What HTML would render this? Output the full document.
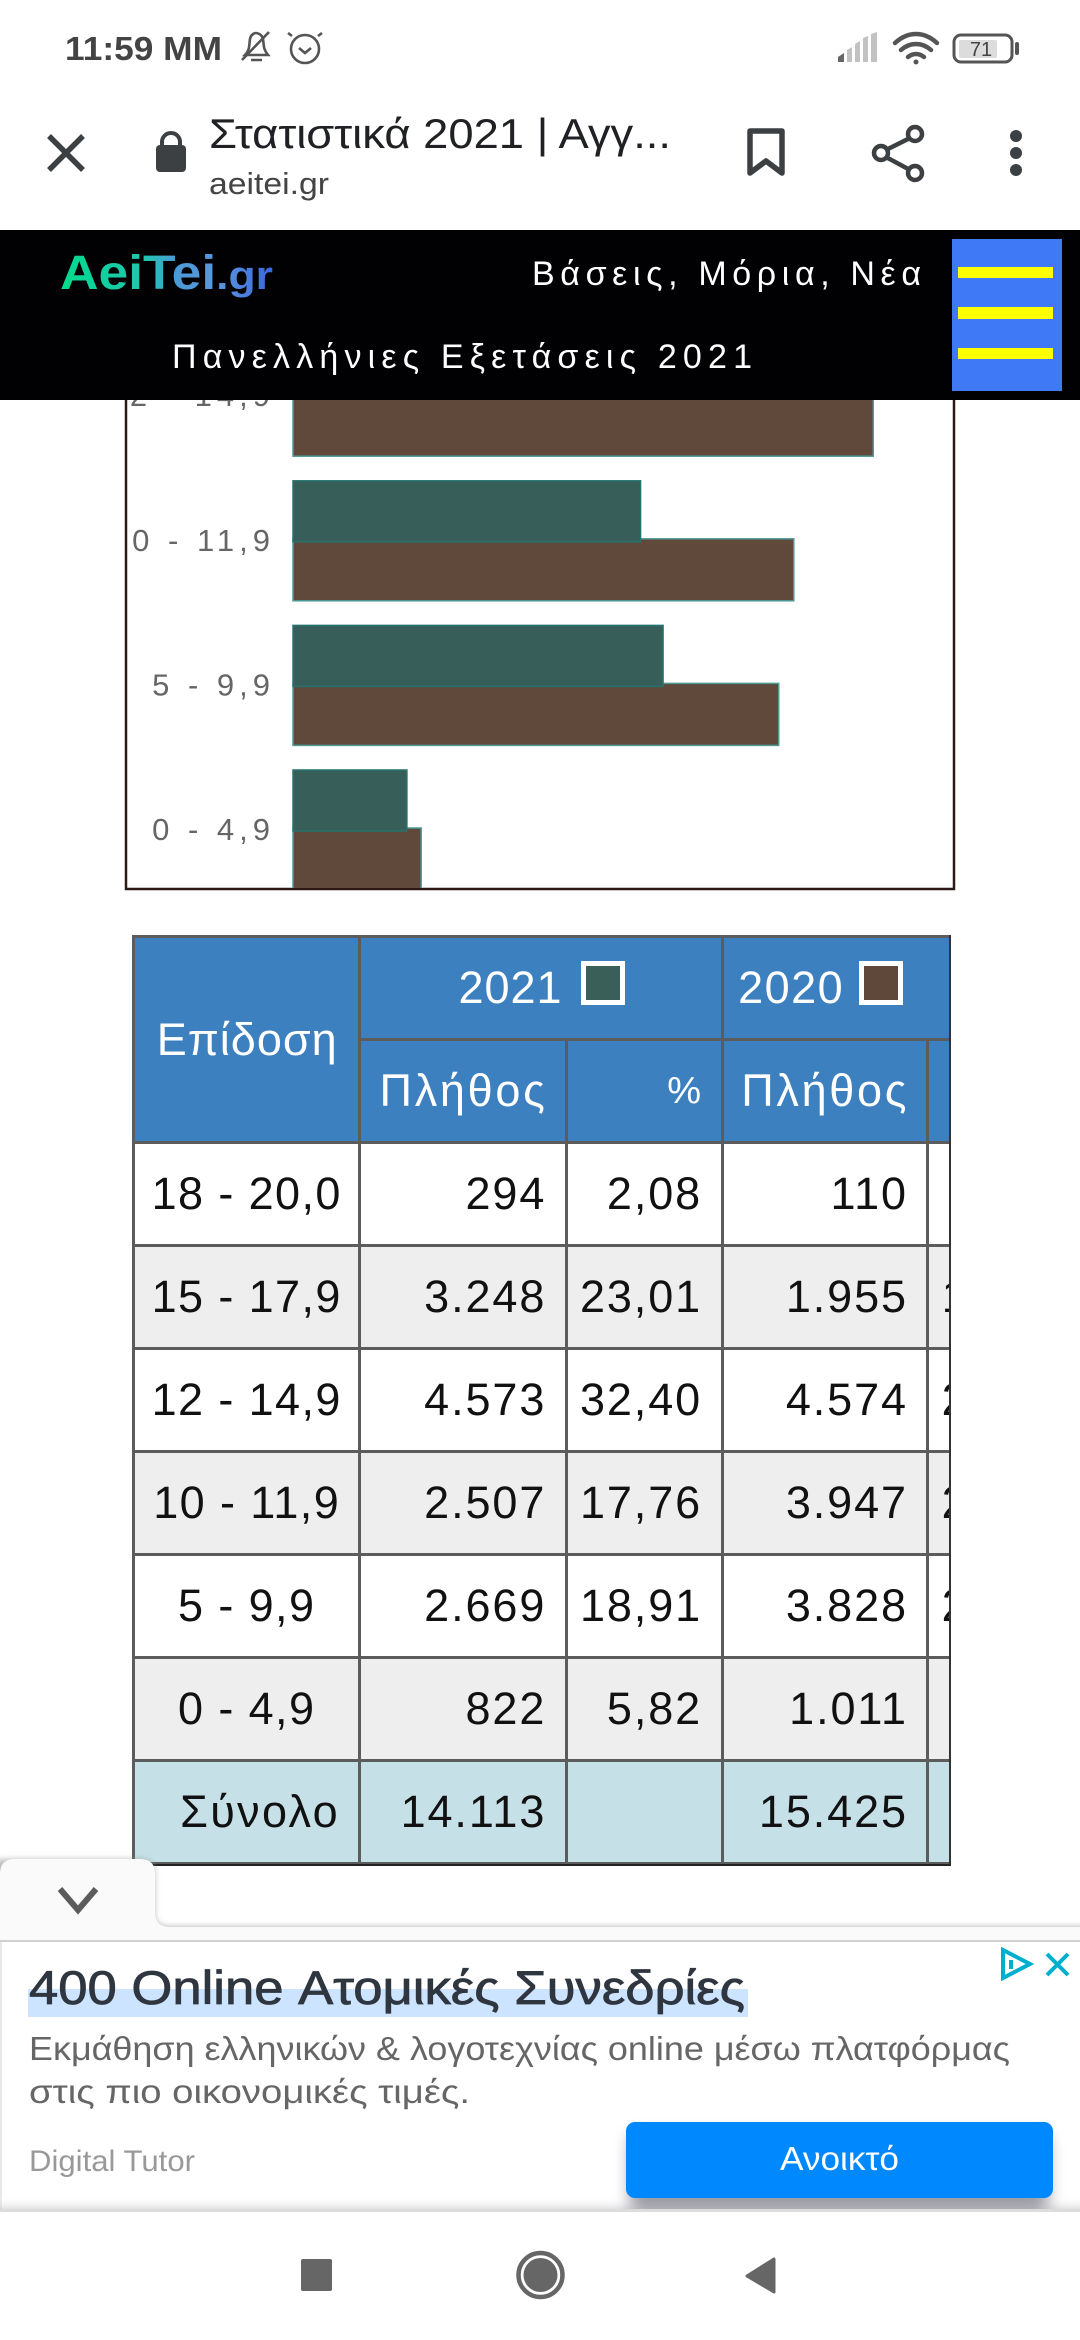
<!DOCTYPE html>
<html lang="el">
<head>
<meta charset="utf-8">
<title>Στατιστικά 2021</title>
<style>
html,body{margin:0;padding:0;background:#fff}
#page{position:relative;width:1080px;height:2340px;overflow:hidden;background:#fff;font-family:"Liberation Sans","Noto Sans CJK JP",sans-serif}
#chart{position:absolute;left:0;top:0;width:1080px;height:900px}
#table-wrap{position:absolute;left:132px;top:935px;width:817px;height:929px;overflow:hidden;border-right:2px solid #333;border-bottom:2px solid #222}
table{border-collapse:separate;border-spacing:3px;background:#5c5c5c;table-layout:fixed;width:1087px;margin:0}
td,th{padding:0;font-weight:normal;font-size:45px;line-height:50px;color:#111;height:100px;box-sizing:border-box;white-space:nowrap;text-align:right;padding-right:18.5px;letter-spacing:1.9px;background:#fff;overflow:hidden}
th{background:#3d80c0;color:#fff;letter-spacing:2.7px;padding-right:17.3px}
td.c{text-align:center;padding-right:0;letter-spacing:1.4px}
th.c{text-align:center;padding-right:0;padding-left:1px;letter-spacing:1px}
tr.alt td{background:#eee}
tr.tot td{background:#c6e0e8}
tr.tot td.lbl{letter-spacing:2.3px}
td.p{padding-right:19px}
th.p{padding-right:20px;font-size:38px;letter-spacing:0}
.sw{display:inline-block;width:44px;height:44px;box-sizing:border-box;border:5px solid #fff;margin-left:18.5px;position:relative;top:-8px;vertical-align:middle}
#chrome{position:absolute;left:0;top:0;width:1080px;height:2340px;pointer-events:none}
#chrome *{pointer-events:auto}
</style>
</head>
<body>
<div id="page">
<svg id="chart" viewBox="0 0 1080 900">
  <defs><clipPath id="plot-clip"><rect x="127" y="0" width="826" height="888"/></clipPath></defs>
  <rect x="126" y="-10" width="828" height="899" fill="#fff" stroke="#2b1a17" stroke-width="2.5"/>
  <g id="marks" clip-path="url(#plot-clip)"></g>
</svg>

<div id="table-wrap">
<table>
<colgroup><col style="width:223px"><col style="width:203px"><col style="width:153px"><col style="width:202px"><col style="width:153px"><col style="width:130px"></colgroup>
<tr>
  <th rowspan="2" class="c" style="height:203px">Επίδοση</th>
  <th colspan="2" class="c">2021<span class="sw" style="background:#3a5f58"></span></th>
  <th colspan="3" style="text-align:left;padding:0 0 0 14px;letter-spacing:1.5px">2020<span class="sw" style="background:#5f483a;margin-left:15px"></span></th>
</tr>
<tr>
  <th>Πλήθος</th>
  <th class="p">%</th>
  <th>Πλήθος</th>
  <th class="p">%</th>
  <th></th>
</tr>
<tr><td class="c">18 - 20,0</td><td>294</td><td class="p">2,08</td><td>110</td><td class="p">0,71</td><td></td></tr>
<tr class="alt"><td class="c">15 - 17,9</td><td>3.248</td><td class="p">23,01</td><td>1.955</td><td class="p">12,67</td><td></td></tr>
<tr><td class="c">12 - 14,9</td><td>4.573</td><td class="p">32,40</td><td>4.574</td><td class="p">29,65</td><td></td></tr>
<tr class="alt"><td class="c">10 - 11,9</td><td>2.507</td><td class="p">17,76</td><td>3.947</td><td class="p">25,59</td><td></td></tr>
<tr><td class="c">5 - 9,9</td><td>2.669</td><td class="p">18,91</td><td>3.828</td><td class="p">24,82</td><td></td></tr>
<tr class="alt"><td class="c">0 - 4,9</td><td>822</td><td class="p">5,82</td><td>1.011</td><td class="p">6,55</td><td></td></tr>
<tr class="tot"><td class="lbl">Σύνολο</td><td>14.113</td><td></td><td>15.425</td><td></td><td></td></tr>
</table>
</div>

<svg id="chrome" viewBox="0 0 1080 2340" font-family="'Liberation Sans','Noto Sans CJK JP',sans-serif">
  <defs>
    <linearGradient id="logo-grad" gradientUnits="userSpaceOnUse" x1="60" y1="0" x2="273" y2="0">
      <stop offset="0" stop-color="#00dc8c"/><stop offset=".4" stop-color="#22c4b0"/><stop offset=".55" stop-color="#4a9ad8"/><stop offset=".75" stop-color="#5a96dc"/><stop offset="1" stop-color="#3a66e0"/>
    </linearGradient>
    <linearGradient id="panel-bottom-shade" x1="0" y1="0" x2="0" y2="1"><stop offset="0" stop-color="#fff" stop-opacity="0"/><stop offset="1" stop-color="#c4c4c8"/></linearGradient>
    <filter id="soft8" x="-20%" y="-60%" width="140%" height="220%"><feGaussianBlur stdDeviation="8"/></filter>
    <filter id="soft3" x="-20%" y="-40%" width="140%" height="180%"><feGaussianBlur stdDeviation="3"/></filter>
    <clipPath id="panel-clip"><rect x="0" y="1942" width="1080" height="267"/></clipPath>
    <clipPath id="shade-clip"><rect x="0" y="1850" width="1080" height="77"/></clipPath>
  </defs>

  <!-- status and toolbar -->
  <rect x="0" y="0" width="1080" height="230" fill="#fff"/>
  <text x="65" y="60" font-size="33" font-weight="bold" fill="#444" textLength="157" lengthAdjust="spacingAndGlyphs">11:59 ΜΜ</text>
  <g fill="none" stroke="#555" stroke-width="2.6">
    <path d="M245 55c5-5 4-10 5-16 1-5 5-6 6-6s6 1 7 6c1 6 0 10 5 16z"/><path d="M251 60h11M242 60l27-28"/>
  </g>
  <g fill="none" stroke="#555" stroke-width="2.6">
    <circle cx="305" cy="49" r="14"/><path d="M292 36l-4-3M318 36l4-3M299 48l6 5 6-5"/>
  </g>
  <g fill="#c2c2c2">
    <path d="M838 62v-5l6-4v9z" fill="#666"/><path d="M847 62v-12l5-3v15zM855 62v-18l5-3v21zM863 62v-24l5-2v26zM871 62v-28l6-2v30z"/>
  </g>
  <g fill="none" stroke="#555" stroke-width="4.5" stroke-linecap="round">
    <path d="M895 43c13-12 29-12 42 0M901 50c9-8 21-8 30 0M908 57c5-4 11-4 16 0"/><circle cx="916" cy="62" r="2.5" fill="#555" stroke="none"/>
  </g>
  <g>
    <rect x="954" y="35" width="58" height="27" rx="7" fill="#fff" stroke="#555" stroke-width="3"/>
    <rect x="959" y="40" width="38" height="18" rx="2" fill="#dcdcdc"/>
    <rect x="1015" y="42" width="4" height="13" rx="2" fill="#555"/>
    <text x="981" y="56" font-size="20" fill="#444" text-anchor="middle">71</text>
  </g>

  <path d="M49 136l34 34M83 136l-34 34" stroke="#3c4043" stroke-width="5.5" fill="none"/>
  <g fill="#3c4043">
    <rect x="156" y="145" width="30" height="27" rx="4"/><path d="M162 146v-4a9 9 0 0 1 18 0v4" fill="none" stroke="#3c4043" stroke-width="4"/>
  </g>
  <text x="209" y="148" font-size="42" fill="#202124" textLength="462" lengthAdjust="spacingAndGlyphs">Στατιστικά 2021 | Αγγ...</text>
  <text x="209" y="194" font-size="31" fill="#444" textLength="120" lengthAdjust="spacingAndGlyphs">aeitei.gr</text>
  <path d="M750 131h32v42l-16-12-16 12z" fill="none" stroke="#3c4043" stroke-width="5.5" stroke-linejoin="round"/>
  <g fill="none" stroke="#3c4043" stroke-width="4.5">
    <path d="M910 138l-24 12M886 157l24 13"/><circle cx="915" cy="134" r="7"/><circle cx="881" cy="153" r="7"/><circle cx="915" cy="173" r="7"/>
  </g>
  <g fill="#3c4043">
    <circle cx="1016" cy="136" r="6"/><circle cx="1016" cy="153" r="6"/><circle cx="1016" cy="170" r="6"/>
  </g>

  <!-- site header -->
  <rect x="0" y="230" width="1080" height="170" fill="#010104"/>
  <text x="60" y="289" font-size="48" font-weight="bold" fill="url(#logo-grad)" textLength="213" lengthAdjust="spacingAndGlyphs">AeiTei<tspan font-size="40">.gr</tspan></text>
  <text x="532" y="285" font-size="34" fill="#fff" textLength="389" lengthAdjust="spacing">Βάσεις, Μόρια, Νέα</text>
  <text x="172" y="368" font-size="34" fill="#fff" textLength="580" lengthAdjust="spacing">Πανελλήνιες Εξετάσεις 2021</text>
  <g>
    <rect x="952" y="239" width="110" height="152" fill="#3f79f5"/>
    <rect x="958" y="267" width="95" height="11" fill="#ffff00"/>
    <rect x="958" y="307" width="95" height="12" fill="#ffff00"/>
    <rect x="958" y="348" width="95" height="11" fill="#ffff00"/>
  </g>

  <!-- ad panel -->
  <g clip-path="url(#shade-clip)">
    <path d="M-10 1874q0-15 15-15h135q15 0 15 15v40q0 12 14 12h921v20h-1100z" fill="#8a8a8a" filter="url(#soft3)" opacity=".55"/>
  </g>
  <path d="M0 1874q0-15 15-15h125q15 0 15 15v38q0 15 15 15h910v14h-1080z" fill="#fafafa"/>
  <path d="M60 1889l18 21 18-21" fill="none" stroke="#5c5c5c" stroke-width="6"/>
  <rect x="0" y="1940" width="1080" height="2" fill="#d0d0d0"/>
  <rect x="0" y="1942" width="1080" height="267" fill="#fff"/>
  <rect x="0" y="1942" width="2" height="267" fill="#e8e8e8"/>
  <rect x="0" y="2196" width="1080" height="13" fill="url(#panel-bottom-shade)" opacity=".5"/>
  <rect x="0" y="2209" width="1080" height="3" fill="#dcdcdc"/>
  <rect x="28" y="1989" width="720" height="28" fill="#cce4ff"/>
  <text x="29" y="2004" font-size="47" fill="#2f3640" stroke="#2f3640" stroke-width=".8" textLength="716" lengthAdjust="spacingAndGlyphs">400 Online Ατομικές Συνεδρίες</text>
  <text x="29" y="2060" font-size="33" fill="#666" textLength="981" lengthAdjust="spacingAndGlyphs">Εκμάθηση ελληνικών &amp; λογοτεχνίας online μέσω πλατφόρμας</text>
  <text x="29" y="2103" font-size="33" fill="#666" textLength="441" lengthAdjust="spacingAndGlyphs">στις πιο οικονομικές τιμές.</text>
  <text x="29" y="2171" font-size="30" fill="#999" textLength="166" lengthAdjust="spacingAndGlyphs">Digital Tutor</text>
  <g clip-path="url(#panel-clip)">
    <rect x="630" y="2134" width="418" height="78" rx="8" fill="#70707c" opacity=".7" filter="url(#soft8)"/>
  </g>
  <rect x="626" y="2122" width="427" height="76" rx="9" fill="#0088ff"/>
  <text x="780" y="2170" font-size="33" fill="#fff" textLength="119" lengthAdjust="spacingAndGlyphs">Ανοικτό</text>
  <g fill="none" stroke="#00aecd" stroke-width="4">
    <path d="M1003 1950v28l27-14z"/><path d="M1011 1960v9"/>
  </g>
  <path d="M1047 1954l21 21M1068 1954l-21 21" fill="none" stroke="#00aecd" stroke-width="4"/>

  <!-- navigation -->
  <rect x="0" y="2212" width="1080" height="128" fill="#fff"/>
  <rect x="301" y="2259" width="31" height="32" rx="2" fill="#666"/>
  <g>
    <circle cx="540.5" cy="2275" r="22" fill="none" stroke="#666" stroke-width="4.5"/>
    <circle cx="540.5" cy="2275" r="17" fill="#666"/>
  </g>
  <path d="M774 2259v33l-27-16z" fill="#666" stroke="#666" stroke-width="3" stroke-linejoin="round"/>
</svg>
</div>

<script>
const categories = ["18 - 20,0", "15 - 17,9", "12 - 14,9", "10 - 11,9", "5 - 9,9", "0 - 4,9"];
const percent2021 = [2.08, 23.01, 32.40, 17.76, 18.91, 5.82];
const percent2020 = [0.71, 12.67, 29.65, 25.59, 24.82, 6.55];

const NS = 'http://www.w3.org/2000/svg';
const marks = document.getElementById('marks');
const xZero = 293, pxPerPercent = 19.57;
const bandStep = 144.6, lastBandTop = 770;
function xScale(v) { return xZero + v * pxPerPercent; }
function bandTop(i) { return lastBandTop - (categories.length - 1 - i) * bandStep; }

function addBar(x, y, w, h, fill, stroke) {
  const r = document.createElementNS(NS, 'rect');
  r.setAttribute('x', x);
  r.setAttribute('y', y);
  r.setAttribute('width', w);
  r.setAttribute('height', h);
  r.setAttribute('fill', fill);
  r.setAttribute('stroke', stroke);
  r.setAttribute('stroke-width', '1.5');
  marks.appendChild(r);
  return r;
}
categories.forEach(function (cat, i) {
  const top = bandTop(i);
  const b = addBar(xZero, top + 58, xScale(percent2020[i]) - xZero, 62, '#60483a', '#4d9a95');
  
  
  const a = addBar(xZero, top, xScale(percent2021[i]) - xZero, 61, '#375e58', '#25736e');
  
  
  const t = document.createElementNS(NS, 'text');
  t.setAttribute('x', 275);
  t.setAttribute('y', top + 70);
  t.setAttribute('text-anchor', 'end');
  t.setAttribute('font-size', '31');
  t.setAttribute('letter-spacing', '5');
  t.setAttribute('fill', '#666');
  t.setAttribute('font-family', '"Liberation Sans", sans-serif');
  
  
  t.textContent = cat;
  marks.appendChild(t);
});
</script>
</body>
</html>
